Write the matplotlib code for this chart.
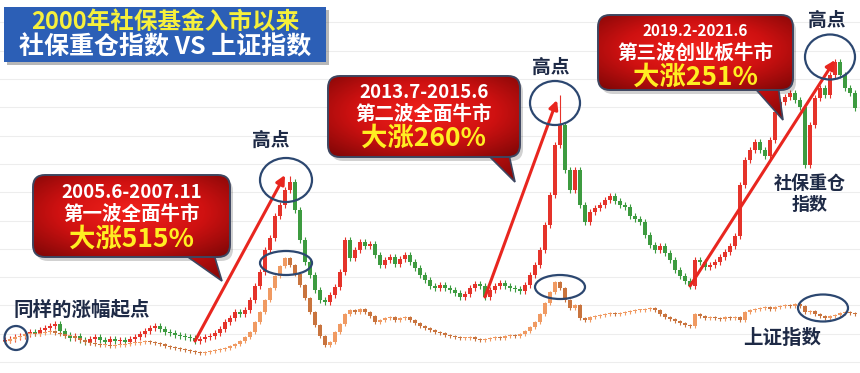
import numpy as np
import matplotlib.pyplot as plt
from matplotlib.patches import FancyBboxPatch, Polygon, Ellipse, Rectangle
from matplotlib.colors import LinearSegmentedColormap

plt.rcParams['font.family'] = ['Noto Sans CJK SC', 'DejaVu Sans']

# monthly closes (relative scale, 2000 -> 2021)
upper_close = [33, 34, 36, 37, 39, 41, 40, 43, 45, 47,
               49, 42, 38, 35, 37, 33, 31, 34, 36, 33,
               31, 34, 32, 33, 31, 34, 36, 39, 42, 45,
               47, 44, 41, 40, 38, 37, 36, 35, 32, 34,
               36, 37, 40, 44, 51, 55, 61, 59, 63, 73,
               87, 101, 123, 135, 157, 168, 183, 191, 163, 133,
               111, 98, 83, 73, 71, 78, 86, 101, 133, 115,
               123, 131, 127, 129, 118, 108, 113, 116, 109, 114,
               118, 111, 105, 98, 93, 87, 85, 88, 85, 83,
               80, 76, 79, 85, 89, 87, 76, 83, 87, 90,
               87, 85, 84, 82, 88, 98, 108, 123, 148, 178,
               228, 248, 203, 183, 203, 168, 151, 161, 165, 168,
               173, 177, 172, 168, 166, 157, 154, 151, 138, 128,
               123, 127, 120, 113, 103, 97, 92, 87, 113, 111,
               106, 108, 111, 116, 121, 127, 137, 188, 213, 223,
               231, 223, 217, 233, 261, 271, 276, 280, 273, 266,
               208, 248, 275, 285, 278, 298, 311, 298, 285, 280,
               265]
lower_close = [32, 34, 36, 37, 39, 40, 39, 40, 41, 42,
               40, 39, 37, 37, 35, 33, 31, 30, 29, 28,
               28, 27, 28, 28, 29, 30, 30, 31, 32, 31,
               30, 29, 27, 26, 25, 24, 23, 22, 21, 20,
               21, 22, 23, 24, 25, 27, 29, 32, 36, 41,
               51, 61, 73, 85, 97, 107, 115, 108, 99, 88,
               75, 61, 48, 37, 28, 31, 41, 49, 59, 63,
               61, 64, 61, 57, 51, 53, 55, 56, 53, 55,
               56, 53, 50, 47, 45, 43, 41, 40, 38, 37,
               36, 35, 35, 36, 34, 33, 34, 35, 36, 35,
               37, 38, 37, 39, 42, 46, 51, 59, 70, 81,
               91, 85, 73, 65, 68, 55, 53, 56, 57, 58,
               59, 60, 59, 60, 61, 62, 63, 63, 64, 65,
               63, 59, 56, 54, 52, 50, 48, 47, 59, 57,
               55, 56, 55, 54, 56, 55, 56, 53, 61, 63,
               64, 65, 66, 64, 66, 67, 68, 67, 69, 67,
               61, 62, 59, 57, 55, 57, 58, 60, 61, 60,
               59]
upper_spikes = {57: 197, 111: 278}

# three bull waves: start candle, arrow tip (candle, level)
wave_start = [38, 96, 137]
wave_tip_x = [56, 110.4, 166]
wave_tip_y = [198, 273, 313]

callout_dates = ['2005.6-2007.11', '2013.7-2015.6', '2019.2-2021.6']
callout_names = ['第一波全面牛市', '第二波全面牛市', '第三波创业板牛市']
callout_gains = ['大涨515%', '大涨260%', '大涨251%']

# circled spots: candle, level, width, height
circles = [(2.2, 35, 4.6, 24), (56.2, 193, 10.4, 44), (56.2, 110, 10.4, 24),
           (110, 270, 10, 44), (111, 86, 10, 24), (165, 316, 10, 45),
           (163.6, 65, 10, 27)]

navy = '#1e2a46'

fig = plt.figure(figsize=(8.6, 3.73), dpi=100)
ax = fig.add_axes([0, 0, 1, 1])


def candles(ax, close, up, down, wick, spikes={}):
    close = np.asarray(close, float)
    opn = np.r_[close[0] - 1, close[:-1]]
    x = np.arange(len(close))
    lo = np.minimum(opn, close)
    hi = np.maximum(opn, close)
    cols = np.where(close >= opn, up, down)
    top = hi + wick
    for k, v in spikes.items():
        top[k] = v
    ax.vlines(x, lo - wick, top, colors=cols, lw=0.8, zorder=2)
    ax.bar(x, np.maximum(hi - lo, 1.2), bottom=lo, width=0.62, color=cols, lw=0, zorder=3)


candles(ax, upper_close, '#e5332a', '#3d9b40', 3, upper_spikes)
candles(ax, lower_close, '#f09a62', '#c9743e', 1.5)

for s, tx, ty in zip(wave_start, wave_tip_x, wave_tip_y):
    ax.annotate('', xy=(tx, ty), xytext=(s, upper_close[s]),
                arrowprops=dict(arrowstyle='-|>', color='#e8261f', lw=2.2,
                                mutation_scale=13, shrinkA=0, shrinkB=0), zorder=5)

for cx, cy, w, h in circles:
    ax.add_patch(Ellipse((cx, cy), w, h, fc='none', ec='#2c4770', lw=1.6, zorder=6))

ax.set_xlim(-1, 171)
ax.set_ylim(0, 373)
ax.set_yticks(np.arange(11, 373, 28.3))
ax.set_xticks([])
ax.grid(axis='y', color='#ededed', lw=0.8)
ax.tick_params(length=0, labelleft=False)
for sp in ax.spines.values():
    sp.set_visible(False)

# overlay in pixel units for the text boxes
ov = fig.add_axes([0, 0, 1, 1], zorder=5)
ov.set_xlim(0, 860)
ov.set_ylim(373, 0)
ov.set_autoscale_on(False)
ov.axis('off')
ov.patch.set_alpha(0)

# title
ov.add_patch(Rectangle((7, 10), 322, 55, fc='#333333', alpha=0.35, lw=0, zorder=1))
ov.add_patch(Rectangle((4, 7), 322, 55, fc='#2c5fb6', lw=0, zorder=2))
ov.text(165, 22, '2000年社保基金入市以来', ha='center', va='center', color='#f6f03c',
        fontsize=17, fontweight='bold', zorder=3)
ov.text(165, 48, '社保重仓指数 VS 上证指数', ha='center', va='center', color='white',
        fontsize=18, fontweight='bold', zorder=3)

cmap = LinearSegmentedColormap.from_list('callout', ['#f2221c', '#cf1111', '#7a0606'])
yy, xx = np.mgrid[-1:1:200j, -1:1:300j]
grad = np.sqrt(xx ** 2 + (yy + 0.1) ** 2)

boxes = [(33, 175, 230, 257), (328, 76, 520, 157), (598, 15, 793, 90)]
tails = [[(178, 250), (212, 248), (222, 281)],
         [(483, 150), (508, 150), (515, 182)],
         [(752, 85), (778, 85), (783, 120)]]
text_y = [(193, 215, 239), (92, 114, 138), (31, 53, 77)]
date_size = [13.5, 13.5, 11]

for i, (x0, y0, x1, y1) in enumerate(boxes):
    cx = (x0 + x1) / 2
    ov.add_patch(FancyBboxPatch((x0 + 3, y0 + 4), x1 - x0, y1 - y0,
                                boxstyle='round,pad=0,rounding_size=12',
                                fc='black', alpha=0.18, lw=0, zorder=6))
    tp = Polygon(tails[i], closed=True, fc='none', ec='#3d4660', lw=1.2, zorder=7)
    ov.add_patch(tp)
    tip_y = max(p[1] for p in tails[i])
    im = ov.imshow(grad, extent=(x0, x1, tip_y, y0), cmap=cmap, aspect='auto', zorder=6.5)
    im.set_clip_path(tp)
    box = FancyBboxPatch((x0, y0), x1 - x0, y1 - y0, boxstyle='round,pad=0,rounding_size=12',
                         fc='none', ec='#3d4660', lw=1.4, zorder=8)
    ov.add_patch(box)
    im2 = ov.imshow(grad, extent=(x0, x1, y1, y0), cmap=cmap, aspect='auto', zorder=7.5)
    im2.set_clip_path(box)
    ty = text_y[i]
    ov.text(cx, ty[0], callout_dates[i], ha='center', va='center', color='white',
            fontsize=date_size[i], fontweight='bold', zorder=9)
    ov.text(cx, ty[1], callout_names[i], ha='center', va='center', color='white',
            fontsize=14, fontweight='bold', zorder=9)
    ov.text(cx, ty[2], callout_gains[i], ha='center', va='center', color='#ffee22',
            fontsize=19, fontweight='bold', zorder=9)

for x, y in [(271, 140), (551, 67), (827, 20)]:
    ov.text(x, y, '高点', ha='center', va='center', color=navy, fontsize=13.5, fontweight='bold')
ov.text(82, 310, '同样的涨幅起点', ha='center', va='center', color=navy, fontsize=14, fontweight='bold')
ov.text(810, 194, '社保重仓\n指数', ha='center', va='center', color=navy, fontsize=13,
        fontweight='bold', linespacing=1.15)
ov.text(782, 338, '上证指数', ha='center', va='center', color=navy, fontsize=14, fontweight='bold')

ov.set_xlim(0, 860)
ov.set_ylim(373, 0)
fig.savefig('out.png', dpi=100)
